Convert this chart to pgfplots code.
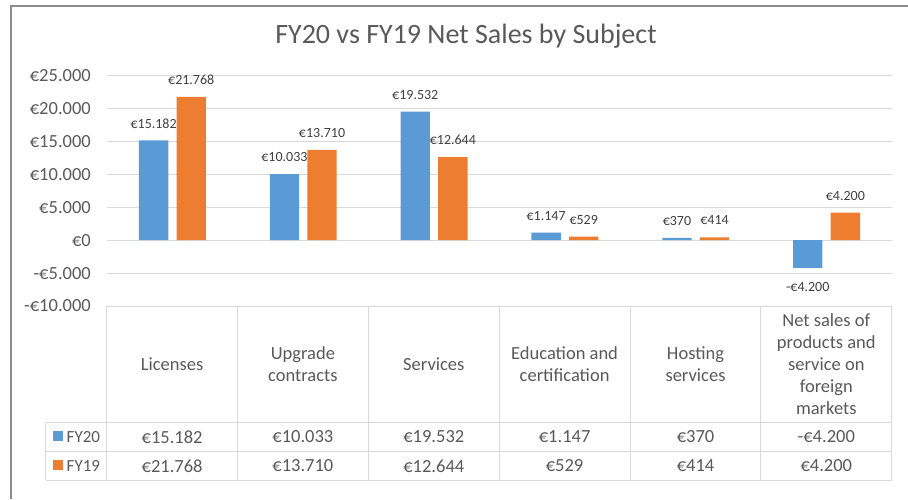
\documentclass[border=0pt]{standalone}
\usepackage{pgfplots}
\pgfplotsset{compat=1.18}
\usepackage{pgfplotstable}
\usepackage{fontspec}
\setmainfont{Carlito}
\definecolor{fyblue}{HTML}{5B9BD5}
\definecolor{fyorange}{HTML}{ED7D31}
\definecolor{gridc}{HTML}{D9D9D9}
\definecolor{txt}{HTML}{595959}
\definecolor{lbl}{HTML}{404040}
\definecolor{framec}{HTML}{8C8C8C}

% values in thousands of euro
\pgfplotstableread{
x y label
0 15.182 €15.182
1 10.033 €10.033
2 19.532 €19.532
3 1.147 €1.147
4 0.370 €370
5 -4.200 -€4.200
}\fytwenty
\pgfplotstableread{
x y label
0 21.768 €21.768
1 13.710 €13.710
2 12.644 €12.644
3 0.529 €529
4 0.414 €414
5 4.200 €4.200
}\fynineteen

\newcommand{\tfont}{\fontsize{18.5}{22}\selectfont}

\begin{document}
\begin{tikzpicture}[x=1pt,y=1pt]
\path[use as bounding box] (0,0) rectangle (908,499);
% frame
\draw[framec, line width=1.3pt] (11,0) -- (11,493) -- (908,493);
% title
\node[text=txt, font=\fontsize{28}{34}\selectfont] at (466,463) {FY20 vs FY19 Net Sales by Subject};

\begin{axis}[
  at={(107pt,193pt)}, anchor=south west,
  width=785pt, height=230.3pt, scale only axis,
  xmin=-0.5, xmax=5.5, ymin=-10, ymax=25,
  xtick=\empty,
  ytick={-10,-5,0,5,10,15,20,25},
  yticklabels={-€10.000,-€5.000,€0,€5.000,€10.000,€15.000,€20.000,€25.000},
  yticklabel style={font=\tfont, text=txt, anchor=east, inner sep=0pt, xshift=-16pt},
  major tick length=0pt,
  ymajorgrids, grid style={gridc, line width=1pt},
  axis line style={draw=none},
  clip=false,
  ybar, bar width=29.3pt,
  point meta=explicit symbolic,
  nodes near coords={\pgfplotspointmeta},
  visualization depends on={y \as \rawy},
  every node near coord/.append style={font=\fontsize{14}{16}\selectfont, text=lbl, anchor=center, inner sep=0pt, yshift={\rawy<0 ? -19 : 17}},
]
\addplot[fill=fyblue, draw=none, bar shift=-18.8pt] table[x=x, y=y, meta=label] {\fytwenty};
\addplot[fill=fyorange, draw=none, bar shift=18.8pt] table[x=x, y=y, meta=label] {\fynineteen};
\end{axis}

% data table
\begin{scope}[gridc, line width=1pt]
\draw (106.7,193) -- (891.8,193);
\draw (45.7,76.3) -- (891.8,76.3);
\draw (45.7,47.3) -- (891.8,47.3);
\draw (45.7,19) -- (891.8,19);
\draw (45.7,76.3) -- (45.7,19);
\foreach \xx in {106.7,237.5,368.3,499.2,630.0,760.9,891.8} \draw (\xx,193) -- (\xx,19);
\end{scope}

\begin{scope}[every node/.style={text=txt, font=\tfont, align=center}]
\node at (172.1,135) {Licenses};
\node at (302.9,135) {Upgrade\\contracts};
\node at (433.8,135) {Services};
\node at (564.6,135) {Education and\\certification};
\node at (695.5,135) {Hosting\\services};
\node at (826.3,135) {Net sales of\\products and\\service on\\foreign\\markets};
% FY20 row
\node at (172.1,62) {€15.182};
\node at (302.9,62) {€10.033};
\node at (433.8,62) {€19.532};
\node at (564.6,62) {€1.147};
\node at (695.5,62) {€370};
\node at (826.3,62) {-€4.200};
% FY19 row
\node at (172.1,33) {€21.768};
\node at (302.9,33) {€13.710};
\node at (433.8,33) {€12.644};
\node at (564.6,33) {€529};
\node at (695.5,33) {€414};
\node at (826.3,33) {€4.200};
\node[anchor=west, inner sep=0pt, font=\fontsize{17}{20}\selectfont] at (66.5,62) {FY20};
\node[anchor=west, inner sep=0pt, font=\fontsize{17}{20}\selectfont] at (66.5,33) {FY19};
\end{scope}
\fill[fyblue] (53.3,58.5) rectangle (63.3,68.5);
\fill[fyorange] (53.3,29.5) rectangle (63.3,39.5);
\end{tikzpicture}
\end{document}
